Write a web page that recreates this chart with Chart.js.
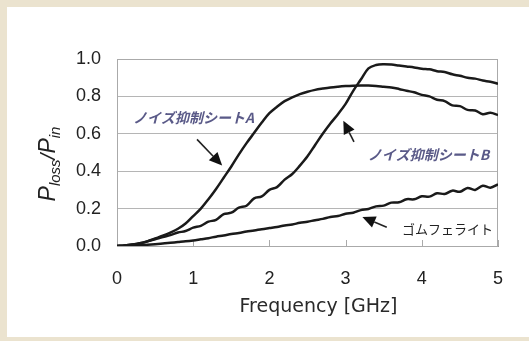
<!DOCTYPE html>
<html>
<head>
<meta charset="utf-8">
<script src="https://cdn.jsdelivr.net/npm/chart.js@4.4.1/dist/chart.umd.min.js"></script>
<style>
  html, body { margin: 0; padding: 0; background: #ebe3cf; }
  #panel { position: absolute; left: 7px; top: 7px; width: 522px; height: 330px; background: #fff; }
  #wrap { position: absolute; left: 0; top: 0; width: 529px; height: 341px; }
</style>
</head>
<body>
<div id="panel"></div>
<div id="wrap"><canvas id="myChart"></canvas></div>
<script>
// frequency in GHz
const freq = [0.0, 0.1, 0.2, 0.3, 0.4, 0.5, 0.6, 0.7, 0.8, 0.9,
  1.0, 1.1, 1.2, 1.3, 1.4, 1.5, 1.6, 1.7, 1.8, 1.9,
  2.0, 2.1, 2.2, 2.3, 2.4, 2.5, 2.6, 2.7, 2.8, 2.9,
  3.0, 3.1, 3.2, 3.3, 3.4, 3.5, 3.6, 3.7, 3.8, 3.9,
  4.0, 4.1, 4.2, 4.3, 4.4, 4.5, 4.6, 4.7, 4.8, 4.9, 5.0]

const sheetA = [0.000, 0.003, 0.008, 0.015, 0.025, 0.040, 0.055, 0.072, 0.092, 0.120,
  0.160, 0.200, 0.250, 0.305, 0.365, 0.425, 0.490, 0.550, 0.605, 0.660,
  0.710, 0.745, 0.775, 0.795, 0.812, 0.825, 0.835, 0.842, 0.848, 0.852,
  0.855, 0.857, 0.858, 0.858, 0.856, 0.852, 0.848, 0.840, 0.830, 0.822,
  0.808, 0.800, 0.782, 0.775, 0.752, 0.748, 0.728, 0.725, 0.705, 0.712, 0.700]

const sheetB = [0.000, 0.003, 0.008, 0.015, 0.025, 0.036, 0.048, 0.058, 0.072, 0.080,
  0.098, 0.108, 0.130, 0.140, 0.170, 0.178, 0.205, 0.215, 0.255, 0.265,
  0.300, 0.315, 0.355, 0.385, 0.430, 0.480, 0.540, 0.600, 0.655, 0.705,
  0.760, 0.830, 0.890, 0.950, 0.968, 0.972, 0.970, 0.965, 0.960, 0.955,
  0.948, 0.945, 0.935, 0.930, 0.918, 0.910, 0.900, 0.895, 0.885, 0.878, 0.868]

const rubberFerrite = [0.000, 0.001, 0.002, 0.004, 0.007, 0.010, 0.013, 0.017, 0.021, 0.025,
  0.030, 0.036, 0.042, 0.050, 0.056, 0.064, 0.070, 0.077, 0.083, 0.090,
  0.096, 0.102, 0.110, 0.115, 0.124, 0.130, 0.138, 0.145, 0.155, 0.160,
  0.172, 0.178, 0.192, 0.198, 0.212, 0.216, 0.232, 0.234, 0.250, 0.250,
  0.266, 0.264, 0.282, 0.278, 0.296, 0.290, 0.310, 0.300, 0.322, 0.312, 0.330]

const xTicks = [0, 1, 2, 3, 4, 5]
const yTicks = [0.0, 0.2, 0.4, 0.6, 0.8, 1.0]

// callout labels with arrows, in data coordinates
const callouts = [
  { text: 'ノイズ抑制シートA', at: [0.21, 0.685], color: '#5a5a88', style: 'italic bold 14px', from: [1.05, 0.57], to: [1.38, 0.43] },
  { text: 'ノイズ抑制シートB', at: [3.29, 0.487], color: '#5a5a88', style: 'italic bold 14px', from: [3.11, 0.557], to: [2.97, 0.67] },
  { text: 'ゴムフェライト', at: [3.74, 0.091], color: '#222', style: '13px', from: [3.54, 0.10], to: [3.22, 0.155] }
]

const FONT = "'Noto Sans CJK JP', sans-serif"
const NUM_FONT = "'Liberation Sans', sans-serif"

const toPts = (ys) => freq.map((f, i) => ({ x: f, y: ys[i] }))

const decor = {
  id: 'decor',
  beforeDatasetsDraw(chart) {
    const { ctx, chartArea: a, scales: { x } } = chart
    ctx.save()
    ctx.strokeStyle = '#aaa'
    ctx.lineWidth = 1
    ctx.strokeRect(a.left + 0.5, a.top + 0.5, a.right - a.left - 1, a.bottom - a.top)
    // small inward ticks on the bottom axis
    xTicks.forEach(t => {
      const px = Math.round(x.getPixelForValue(t)) + 0.5
      ctx.beginPath()
      ctx.moveTo(px, a.bottom)
      ctx.lineTo(px, a.bottom - 6)
      ctx.stroke()
    })
    ctx.restore()
  },
  afterDraw(chart) {
    const { ctx, chartArea: a, scales: { x, y } } = chart
    ctx.save()
    // callouts
    callouts.forEach(c => {
      ctx.font = c.style + ' ' + FONT
      ctx.fillStyle = c.color
      ctx.textBaseline = 'middle'
      ctx.textAlign = 'left'
      ctx.fillText(c.text, x.getPixelForValue(c.at[0]), y.getPixelForValue(c.at[1]))

      const x0 = x.getPixelForValue(c.from[0]), y0 = y.getPixelForValue(c.from[1])
      const x1 = x.getPixelForValue(c.to[0]), y1 = y.getPixelForValue(c.to[1])
      const ang = Math.atan2(y1 - y0, x1 - x0)
      const hl = 13, hw = 6
      ctx.strokeStyle = '#222'
      ctx.fillStyle = '#111'
      ctx.lineWidth = 1.6
      ctx.beginPath()
      ctx.moveTo(x0, y0)
      ctx.lineTo(x1 - hl * Math.cos(ang), y1 - hl * Math.sin(ang))
      ctx.stroke()
      ctx.beginPath()
      ctx.moveTo(x1, y1)
      ctx.lineTo(x1 - hl * Math.cos(ang) + hw * Math.sin(ang), y1 - hl * Math.sin(ang) - hw * Math.cos(ang))
      ctx.lineTo(x1 - hl * Math.cos(ang) - hw * Math.sin(ang), y1 - hl * Math.sin(ang) + hw * Math.cos(ang))
      ctx.closePath()
      ctx.fill()
    })

    // x axis title
    ctx.fillStyle = '#2a2a2a'
    ctx.font = "19px 'DejaVu Sans', sans-serif"
    ctx.textAlign = 'center'
    ctx.textBaseline = 'middle'
    ctx.fillText('Frequency [GHz]', (a.left + a.right) / 2 + 11, 307)

    // y axis title: P_loss / P_in
    ctx.translate(47, 164)
    ctx.rotate(-Math.PI / 2)
    ctx.textAlign = 'left'
    ctx.textBaseline = 'alphabetic'
    const parts = [
      ['P', 23, 0], ['loss', 15, 5], ['/', 21, 0], ['P', 23, 0], ['in', 15, 5]
    ]
    let w = 0
    parts.forEach(p => { ctx.font = 'italic ' + p[1] + "px 'Liberation Sans', sans-serif"; w += ctx.measureText(p[0]).width })
    let cx = -w / 2
    ctx.fillStyle = '#222'
    parts.forEach(p => {
      ctx.font = 'italic ' + p[1] + "px 'Liberation Sans', sans-serif"
      ctx.fillText(p[0], cx, 8 + p[2])
      cx += ctx.measureText(p[0]).width
    })
    ctx.restore()
  }
}

const line = (label, ys) => ({
  label,
  data: toPts(ys),
  borderColor: '#1a1a1a',
  borderWidth: 2.5,
  pointRadius: 0,
  tension: 0.35,
  fill: false
})

new Chart(document.getElementById('myChart').getContext('2d'), {
  type: 'line',
  data: {
    datasets: [
      line('ノイズ抑制シートA', sheetA),
      line('ノイズ抑制シートB', sheetB),
      line('ゴムフェライト', rubberFerrite)
    ]
  },
  options: {
    responsive: true,
    maintainAspectRatio: false,
    animation: false,
    layout: { padding: { top: 59, right: 31, left: 0, bottom: 0 } },
    plugins: { legend: { display: false }, tooltip: { enabled: false } },
    scales: {
      x: {
        type: 'linear',
        min: 0,
        max: 5,
        afterBuildTicks: (axis) => { axis.ticks = xTicks.map(v => ({ value: v })) },
        afterFit: (axis) => { axis.height = 95 },
        ticks: { color: '#222', font: { size: 18, family: NUM_FONT }, padding: 22 },
        grid: { display: false, drawTicks: false },
        border: { display: true, color: '#999' }
      },
      y: {
        min: 0,
        max: 1,
        afterBuildTicks: (axis) => { axis.ticks = yTicks.map(v => ({ value: v })) },
        afterFit: (axis) => { axis.width = 117 },
        ticks: { color: '#222', font: { size: 18, family: NUM_FONT }, padding: 16, callback: (v) => v.toFixed(1) },
        grid: { color: '#b5b5b5', drawTicks: false },
        border: { display: true, color: '#aaa' }
      }
    }
  },
  plugins: [decor]
})
</script>
</body>
</html>
